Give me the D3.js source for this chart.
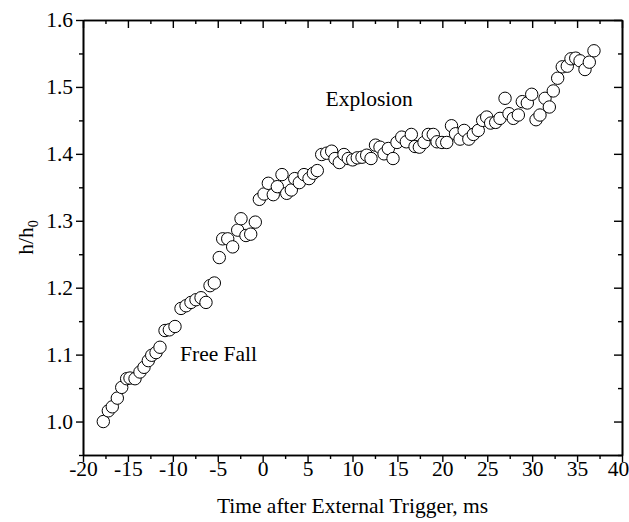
<!DOCTYPE html>
<html>
<head>
<meta charset="utf-8">
<script src="https://cdn.jsdelivr.net/npm/d3@7"></script>
<style>
  body { margin: 0; background: #fff; }
  text { font-family: "Liberation Serif", "Times New Roman", serif; }
</style>
</head>
<body>
<div id="chart"></div>
<script>
// time after trigger (ms) and normalised height h/h0
var timeMs = [-17.74,-17.18,-16.74,-16.18,-15.69,-15.14,-14.77,-14.21,-13.66,-13.21,
  -12.73,-12.35,-11.87,-11.43,-10.87,-10.39,-9.76,-9.09,-8.53,-7.98,
  -7.42,-6.86,-6.31,-5.86,-5.38,-4.83,-4.45,-3.89,-3.34,-2.78,
  -2.41,-1.86,-1.33,-0.82,-0.37,0.15,0.63,1.18,1.63,2.15,
  2.68,3.19,3.57,4.08,4.60,5.16,5.64,6.08,6.57,7.13,
  7.68,8.05,8.53,9.05,9.53,10.02,10.53,11.06,11.58,12.06,
  12.56,13.06,13.51,13.99,14.51,14.95,15.48,15.99,16.55,16.96,
  17.44,17.96,18.44,18.99,19.41,19.96,20.49,21.02,21.47,21.97,
  22.43,22.95,23.45,24.00,24.49,24.94,25.38,25.94,26.42,26.98,
  27.42,27.90,28.46,28.90,29.46,29.95,30.43,30.87,31.43,31.91,
  32.35,32.84,33.35,33.91,34.32,34.85,35.33,35.88,36.36,36.88];
var heightRatio = [1.000,1.016,1.022,1.035,1.051,1.064,1.065,1.064,1.074,1.081,
  1.091,1.099,1.103,1.111,1.136,1.137,1.142,1.169,1.173,1.178,
  1.182,1.185,1.178,1.203,1.207,1.245,1.273,1.273,1.261,1.286,
  1.303,1.278,1.280,1.298,1.332,1.340,1.356,1.339,1.351,1.369,
  1.341,1.346,1.363,1.357,1.369,1.363,1.371,1.375,1.399,1.401,
  1.404,1.393,1.387,1.399,1.393,1.391,1.394,1.395,1.398,1.393,
  1.413,1.410,1.400,1.408,1.393,1.417,1.425,1.418,1.429,1.411,
  1.410,1.417,1.429,1.429,1.418,1.417,1.417,1.442,1.430,1.422,
  1.435,1.422,1.429,1.435,1.450,1.455,1.446,1.447,1.453,1.483,
  1.460,1.453,1.458,1.478,1.476,1.489,1.451,1.458,1.483,1.470,
  1.494,1.513,1.530,1.531,1.542,1.543,1.539,1.526,1.537,1.554];

var xMajor = [-20,-15,-10,-5,0,5,10,15,20,25,30,35,40];
var xMinor = [-17.5,-12.5,-7.5,-2.5,2.5,7.5,12.5,17.5,22.5,27.5,32.5,37.5];
var yMajor = [1.0,1.1,1.2,1.3,1.4,1.5,1.6];
var yMinor = [0.95,1.05,1.15,1.25,1.35,1.45,1.55];

var annotations = [
  {label: "Explosion", t: 7.0, h: 1.471},
  {label: "Free Fall", t: -9.2, h: 1.090}
];

var width = 629, height = 522;
var margin = {top: 20, right: 7, bottom: 67, left: 83};
var fs = "21.5px";

var svg = d3.select("#chart").append("svg").attr("width", width).attr("height", height);
var g = svg.append("g").attr("transform", "translate(" + margin.left + "," + margin.top + ")");
var w = width - margin.left - margin.right, h = height - margin.top - margin.bottom;

var x = d3.scaleLinear().domain([-20, 40]).range([0, w]);
var y = d3.scaleLinear().domain([0.95, 1.6]).range([h, 0]);

function styleAxis(sel) {
  sel.selectAll(".domain").attr("stroke", "#000").attr("stroke-width", 1.6);
  sel.selectAll(".tick line").attr("stroke", "#000").attr("stroke-width", 1.4);
  sel.selectAll(".tick text").style("font-size", fs).attr("fill", "#000");
}

// minor ticks first, then major axes on top
g.append("g").attr("transform", "translate(0," + h + ")")
  .call(d3.axisBottom(x).tickValues(xMinor).tickSize(4).tickFormat("").tickSizeOuter(0)).call(styleAxis);
g.append("g").call(d3.axisLeft(y).tickValues(yMinor).tickSize(4).tickFormat("").tickSizeOuter(0)).call(styleAxis);
g.append("g").call(d3.axisTop(x).tickValues(xMinor).tickSize(-4).tickFormat("").tickSizeOuter(0)).call(styleAxis);
g.append("g").attr("transform", "translate(" + w + ",0)")
  .call(d3.axisRight(y).tickValues(yMinor).tickSize(-4).tickFormat("").tickSizeOuter(0)).call(styleAxis);

var xAxis = g.append("g").attr("transform", "translate(0," + h + ")")
  .call(d3.axisBottom(x).tickValues(xMajor).tickSize(7).tickPadding(-1).tickSizeOuter(0)
    .tickFormat(function(d){ return String(d); })).call(styleAxis);
// keep the last label inside the window
xAxis.selectAll(".tick text").filter(function(d){ return d === 40; }).attr("dx", -4);

g.append("g")
  .call(d3.axisLeft(y).tickValues(yMajor).tickSize(7).tickPadding(3).tickSizeOuter(0)
    .tickFormat(d3.format(".1f"))).call(styleAxis);
g.append("g").call(d3.axisTop(x).tickValues(xMajor).tickSize(-8).tickFormat("").tickSizeOuter(0)).call(styleAxis);
g.append("g").attr("transform", "translate(" + w + ",0)")
  .call(d3.axisRight(y).tickValues(yMajor).tickSize(-8).tickFormat("").tickSizeOuter(0)).call(styleAxis);

// points
g.append("g").selectAll("circle")
  .data(timeMs).enter()
  .append("circle")
  .attr("cx", function(d){ return x(d); })
  .attr("cy", function(d,i){ return y(heightRatio[i]); })
  .attr("r", 6.2)
  .style("fill", "#fff")
  .style("stroke", "#000")
  .style("stroke-width", 1);

g.append("g").selectAll("text")
  .data(annotations).enter()
  .append("text")
  .attr("x", function(d){ return x(d.t); })
  .attr("y", function(d){ return y(d.h); })
  .style("font-size", fs)
  .text(function(d){ return d.label; });

// axis titles
svg.append("text").attr("x", margin.left + w / 2).attr("y", 513)
  .attr("text-anchor", "middle").style("font-size", fs)
  .text("Time after External Trigger, ms");

var yt = svg.append("text").attr("transform", "translate(33," + (margin.top + h / 2) + ") rotate(-90)")
  .attr("text-anchor", "middle").style("font-size", fs);
yt.append("tspan").text("h/h");
yt.append("tspan").attr("dy", 5).style("font-size", "14px").text("0");
</script>
</body>
</html>
